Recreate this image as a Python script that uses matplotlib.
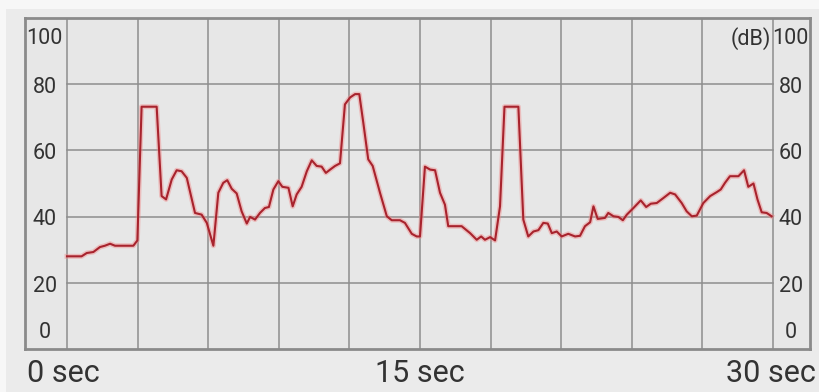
import numpy as np
import matplotlib
matplotlib.use("Agg")
import matplotlib.pyplot as plt
from matplotlib.patches import Rectangle

plt.rcParams['font.family'] = ['Roboto', 'DejaVu Sans']

# sound level trace, seconds vs dB
time_s = [0.0, 0.62, 0.84, 1.12, 1.40, 1.61, 1.83, 2.04, 2.82, 2.99, 3.17, 3.81,
          4.02, 4.21, 4.45, 4.66, 4.87, 5.09, 5.44, 5.72, 5.94, 6.22, 6.43, 6.64,
          6.81, 7.00, 7.21, 7.42, 7.64, 7.78, 7.99, 8.20, 8.41, 8.58, 8.77, 8.98,
          9.15, 9.41, 9.59, 9.76, 9.97, 10.19, 10.40, 10.61, 10.82, 11.00, 11.18,
          11.39, 11.60, 11.81, 12.03, 12.24, 12.42, 12.59, 12.80, 12.99, 13.30,
          13.59, 13.80, 14.15, 14.36, 14.65, 14.86, 15.00, 15.21, 15.43, 15.64,
          15.85, 16.06, 16.20, 16.77, 17.13, 17.41, 17.60, 17.76, 17.98, 18.19,
          18.40, 18.59, 19.18, 19.39, 19.60, 19.82, 20.03, 20.24, 20.43, 20.60,
          20.81, 21.02, 21.30, 21.59, 21.80, 22.01, 22.23, 22.37, 22.55, 22.86,
          23.00, 23.22, 23.43, 23.62, 23.79, 24.07, 24.38, 24.61, 24.81, 25.06,
          25.34, 25.63, 25.84, 26.12, 26.33, 26.55, 26.76, 27.04, 27.33, 27.61,
          27.78, 27.96, 28.17, 28.53, 28.77, 28.95, 29.17, 29.34, 29.52, 29.73,
          29.94]
level_db = [28.0, 28.0, 29.0, 29.3, 30.8, 31.2, 31.8, 31.2, 31.2, 32.8, 73.2, 73.2,
            46.2, 45.2, 51.2, 54.0, 53.7, 51.7, 41.1, 40.6, 38.1, 31.2, 47.2, 50.2,
            51.0, 48.4, 47.0, 41.6, 37.9, 39.9, 39.1, 41.1, 42.6, 42.9, 48.2, 50.7,
            49.0, 48.7, 43.1, 46.7, 49.0, 53.7, 57.0, 55.3, 55.1, 53.2, 54.2,
            55.3, 56.1, 73.9, 76.0, 77.0, 77.0, 68.4, 57.3, 55.3, 47.2,
            40.1, 38.9, 38.9, 38.1, 34.8, 34.0, 34.0, 55.1, 54.2, 54.0,
            47.2, 43.6, 37.1, 37.1, 35.0, 33.0, 34.0, 33.0, 33.8, 32.8,
            43.1, 73.2, 73.2, 39.1, 34.0, 35.5, 35.9, 38.1, 37.9, 35.0,
            35.5, 34.0, 34.8, 34.0, 34.2, 37.1, 38.3, 43.1, 39.3, 39.6,
            41.1, 40.1, 39.9, 38.9, 40.6, 42.6, 44.9, 42.9, 43.9, 44.1,
            45.6, 47.2, 46.7, 44.1, 41.6, 40.1, 40.3, 44.1, 46.2, 47.4,
            48.2, 50.2, 52.2, 52.2, 54.0, 49.0, 50.0, 45.2, 41.3, 41.1,
            40.1]

y_ticks = [0, 20, 40, 60, 80, 100]
x_grid = np.arange(0, 31, 3)
x_labels = {0: '0 sec', 15: '15 sec', 30: '30 sec'}

W, H = 820, 392
fig = plt.figure(figsize=(W / 100, H / 100), dpi=100)
fig.patch.set_facecolor('#f7f7f7')
fig.patches.append(Rectangle((6 / W, 0), 1, (H - 9) / H, transform=fig.transFigure,
                             facecolor='#ebebeb', edgecolor='none', zorder=-10))

# frame spans 25..810 px horizontally, 18..349 px vertically
px_per_s = (773 - 67) / 30.0
px_per_db = (349 - 18) / 100.0
ax = fig.add_axes([25 / W, (H - 349) / H, (810 - 25) / W, (349 - 18) / H])
ax.set_facecolor('#e7e7e7')
ax.set_xlim((25 - 67) / px_per_s, 30 + (810 - 773) / px_per_s)
ax.set_ylim(0, 100)

grid_c = '#8e8e8e'
for xv in x_grid:
    ax.axvline(xv, color=grid_c, lw=1.1, zorder=1)
for yv in y_ticks[1:-1]:
    ax.plot([0, 30], [yv, yv], color=grid_c, lw=1.1, zorder=1)

for s in ax.spines.values():
    s.set_color('#8a8a8a')
    s.set_linewidth(2)
ax.set_xticks([])
ax.set_yticks([])

# trace with faint halo
ax.plot(time_s, level_db, color='#f08a8a', lw=3.6, alpha=0.45, zorder=2,
        solid_joinstyle='round')
ax.plot(time_s, level_db, color='#a8232d', lw=1.5, zorder=3,
        solid_joinstyle='round')

txt_c = '#333333'
lab_x_left = -0.95
lab_x_right = 30.75
for yv in y_ticks:
    if yv == 100:
        yy = 93.8
    elif yv == 0:
        yy = 5.0
    else:
        yy = yv - 1.0
    ax.text(lab_x_left, yy, str(yv), ha='center', va='center', fontsize=15.5, color=txt_c)
    ax.text(lab_x_right, yy, str(yv), ha='center', va='center', fontsize=15.5, color=txt_c)
ax.text(29.9, 93.8, '(dB)', ha='right', va='center', fontsize=15.5, color=txt_c)

for xv, lab in x_labels.items():
    ha = {0: 'left', 15: 'center', 30: 'right'}[xv]
    xpos = xv
    if xv == 0:
        xpos = (27 - 67) / px_per_s
    elif xv == 30:
        xpos = (816 - 67) / px_per_s
    ax.text(xpos, (349 - 382) / px_per_db, lab, ha=ha, va='baseline', fontsize=22,
            color=txt_c, clip_on=False)

fig.savefig('out.png', dpi=100, facecolor=fig.get_facecolor())
